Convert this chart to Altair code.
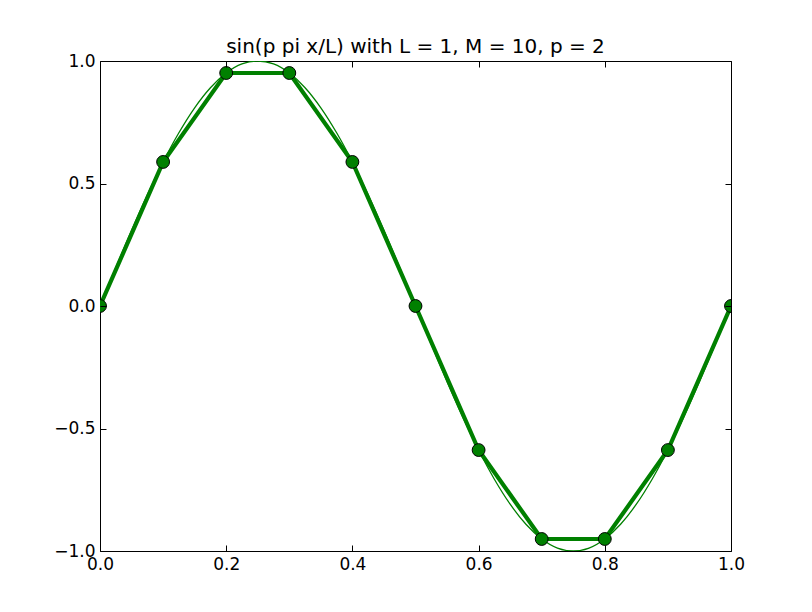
import altair as alt
import pandas as pd

# sample points (M = 10)
xs = [0.0, 0.1, 0.2, 0.3, 0.4, 0.5, 0.6, 0.7, 0.8, 0.9, 1.0]
ys = [0.0, 0.588, 0.951, 0.951, 0.588, 0.0, -0.588, -0.951, -0.951, -0.588, 0.0]

# fine curve
fx = [i * 0.025 for i in range(41)]
fy = [0.0, 0.156, 0.309, 0.454, 0.588, 0.707, 0.809, 0.891, 0.951, 0.988,
      1.0, 0.988, 0.951, 0.891, 0.809, 0.707, 0.588, 0.454, 0.309, 0.156,
      0.0, -0.156, -0.309, -0.454, -0.588, -0.707, -0.809, -0.891, -0.951, -0.988,
      -1.0, -0.988, -0.951, -0.891, -0.809, -0.707, -0.588, -0.454, -0.309, -0.156,
      0.0]

xticks = [0.0, 0.2, 0.4, 0.6, 0.8, 1.0]
yticks = [-1.0, -0.5, 0.0, 0.5, 1.0]

pts = pd.DataFrame({"x": xs, "y": ys})
fine = pd.DataFrame({"x": fx, "y": fy})

W, H = 631, 490
GREEN = "#008000"
FONT = "DejaVu Sans"

xs_scale = alt.Scale(domain=[0, 1], nice=False, zero=False)
ys_scale = alt.Scale(domain=[-1, 1], nice=False, zero=False)

x_main = alt.Axis(orient="bottom", values=xticks, format=".1f", ticks=False,
                  labelPadding=5, labelFont=FONT, labelFontSize=17,
                  labelColor="black", grid=False, domain=False, title=None,
                  labelFlush=False, zindex=1)
y_main = alt.Axis(orient="left", values=yticks, ticks=False,
                  labelExpr="replace(format(datum.value, '.1f'), '-', '\u2212')",
                  labelPadding=5, labelFont=FONT, labelFontSize=17,
                  labelColor="black", grid=False, domain=False, title=None,
                  labelFlush=False, zindex=1)

x_in_bottom = alt.Axis(orient="top", offset=-H, values=xticks, labels=False,
                       tickSize=6, tickColor="black", grid=False, domain=False,
                       title=None, zindex=1)
y_in_left = alt.Axis(orient="right", offset=-W, values=yticks, labels=False,
                     tickSize=6, tickColor="black", grid=False, domain=False,
                     title=None, zindex=1)
x_in_top = alt.Axis(orient="bottom", offset=-H, values=xticks, labels=False,
                    tickSize=6, tickColor="black", grid=False, domain=False,
                    title=None, zindex=1)
y_in_right = alt.Axis(orient="left", offset=-W, values=yticks, labels=False,
                      tickSize=6, tickColor="black", grid=False, domain=False,
                      title=None, zindex=1)

thin = alt.Chart(fine).mark_line(color=GREEN, strokeWidth=1.3,
                                 interpolate="monotone", clip=True).encode(
    x=alt.X("x:Q", scale=xs_scale, axis=x_main),
    y=alt.Y("y:Q", scale=ys_scale, axis=y_main),
)

thick = alt.Chart(pts).mark_line(color=GREEN, strokeWidth=4.2, clip=True).encode(
    x=alt.X("x:Q", scale=xs_scale, axis=x_in_bottom),
    y=alt.Y("y:Q", scale=ys_scale, axis=y_in_left),
)

dots = alt.Chart(pts).mark_point(filled=True, shape="circle", size=165,
                                 fill=GREEN, stroke="black", strokeWidth=1,
                                 opacity=1, clip=True).encode(
    x=alt.X("x:Q", scale=xs_scale, axis=x_in_top),
    y=alt.Y("y:Q", scale=ys_scale, axis=y_in_right),
)

chart = alt.layer(thin, thick, dots).resolve_axis(
    x="independent", y="independent"
).properties(
    width=W, height=H,
    title=alt.TitleParams("sin(p pi x/L) with L = 1, M = 10, p = 2",
                          font=FONT, fontSize=20, fontWeight="normal",
                          color="black", anchor="middle", offset=-21,
                          baseline="alphabetic"),
    autosize=alt.AutoSizeParams(type="none"),
    padding={"left": 92, "top": 53, "right": 73, "bottom": 53},
    background="white",
).configure_view(stroke="black", strokeWidth=1)

chart.save("out.html", embed_options={"renderer": "svg", "actions": False})
